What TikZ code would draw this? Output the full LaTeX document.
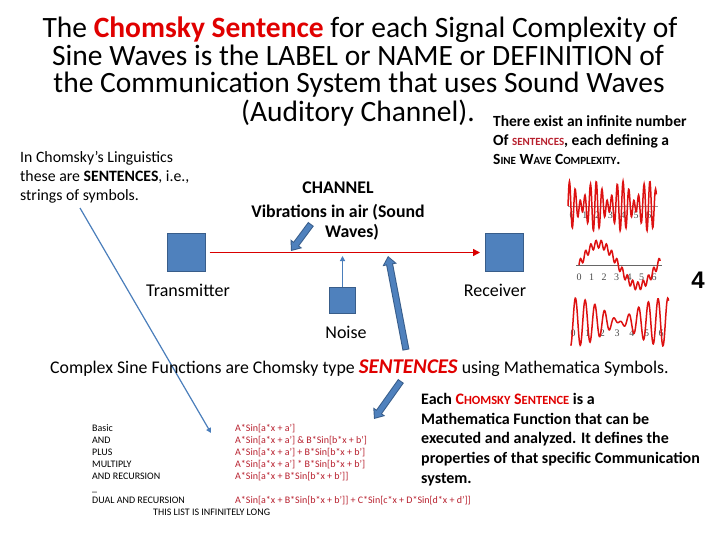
\documentclass[tikz,border=0pt]{standalone}
\usepackage{fontspec}
\setmainfont{Carlito}
\newfontfamily\arialf{Liberation Sans}
\newfontfamily\timesf{Liberation Serif}
\usetikzlibrary{arrows.meta}
\definecolor{boxblue}{HTML}{4F81BD}
\definecolor{boxedge}{HTML}{385D8A}
\definecolor{tred}{HTML}{E00000}
\definecolor{dred}{HTML}{B8202E}
\definecolor{linkblue}{HTML}{4A7EBB}
\definecolor{wavered}{HTML}{DD1111}
\newcommand{\fs}[2]{\fontsize{#1}{#2}\selectfont}
\begin{document}
\begin{tikzpicture}[x=1pt,y=-1pt,
  sq/.style={draw=boxedge,fill=boxblue,line width=1pt,inner sep=0pt},
  lbl/.style={font=\fs{18}{20},inner sep=0pt},
  blockarrow/.style={draw=boxedge,line width=7pt,-{Triangle[width=14pt,length=9pt]},shorten >=0pt},
  blockinner/.style={draw=boxblue,line width=5pt,-{Triangle[width=10pt,length=6.5pt]}},
  chan/.style={draw=red!85!black,line width=1.5pt,-{Triangle[width=7pt,length=7pt]}},
  thinlink/.style={draw=linkblue,line width=1.2pt,-{Triangle[width=5pt,length=5pt]}},
  wave/.style={draw=wavered,line width=1.5pt,smooth},
  axl/.style={font=\timesf\fs{10}{11},text=black!70,inner sep=0pt},
  listl/.style={font=\fs{10}{11},anchor=base west,inner sep=0pt},
  listr/.style={font=\fs{10}{11},anchor=base west,inner sep=0pt,text=dred},
  ttl/.style={font=\fs{29.5}{31},anchor=base,inner sep=0pt},
  bt/.style={font=\bfseries\fs{16}{18},anchor=base west,inner sep=0pt},
  st/.style={font=\bfseries\fs{15.5}{17},anchor=base west,inner sep=0pt},
  lt/.style={font=\fs{15.8}{18},anchor=base west,inner sep=0pt},
  ct/.style={font=\bfseries\fs{17.8}{19},anchor=base,inner sep=0pt}
]
\useasboundingbox (0,0) rectangle (720,540);
\fill[white] (0,0) rectangle (720,540);

% title
\node[ttl] (t1) at (360,38) {The \textcolor{tred}{\textbf{Chomsky Sentence}} for each Signal Complexity of};
\node[ttl] (t2) at (358,66) {Sine Waves is the LABEL or NAME or DEFINITION of};
\node[ttl] (t3) at (359,93) {the Communication System that uses Sound Waves};
\node[ttl] (t4) at (358,122) {(Auditory Channel).};

% right-top block
\node[st] (r1) at (493,127) {There exist an infinite number};
\node[st] (r2) at (493,146) {Of \textcolor{dred}{\fs{11}{12}SENTENCES}, each defining a};
\node[st] (r3) at (493,165) {S{\fs{11}{12}INE} W{\fs{11}{12}AVE} C{\fs{11}{12}OMPLEXITY}.};

% left block
\node[lt] (l1) at (20,163) {In Chomsky's Linguistics};
\node[lt] (l2) at (20,182) {these are \textbf{SENTENCES}, i.e.,};
\node[lt] (l3) at (20,201) {strings of symbols.};

% channel
\node[ct] (c1) at (338,194) {CHANNEL};
\node[ct] (c2) at (338,218) {Vibrations in air (Sound};
\node[ct] (c3) at (352,237) {Waves)};

% boxes
\node[sq,minimum size=38pt] (tx) at (186,252.5) {};
\node[sq,minimum size=38pt] (rx) at (504.5,252.5) {};
\node[sq,minimum size=26pt] (nz) at (342.5,300) {};
\node[lbl] (txl) at (188,290) {Transmitter};
\node[lbl] (rxl) at (495,290) {Receiver};
\node[lbl] (nzl) at (346,332) {Noise};

\coordinate (nzhit) at (342.5,256);
\draw[chan] ([xshift=4pt]tx.east) -- ([xshift=-5pt]rx.west);
\draw[thinlink] (nz.north) -- (nzhit);

% block arrows
\coordinate (a1s) at (311,224); \coordinate (a1e) at (291,251);
\coordinate (a2s) at (406,350); \coordinate (a2e) at (388,256);
\coordinate (a3s) at (401,381); \coordinate (a3e) at (374,419);
\foreach \s/\e in {a1s/a1e,a2s/a2e,a3s/a3e}{
  \draw[blockarrow] (\s) -- (\e);
  \draw[blockinner,shorten >=1.5pt,shorten <=1pt] (\s) -- (\e);
}

% thin link from left text
\coordinate (lks) at (80,208); \coordinate (lke) at (211,433);
\draw[thinlink] (lks) -- (lke);

% the 4
\node[font=\arialf\bfseries\fs{24}{26},inner sep=0pt] (four) at (698,280) {4};

% wave plot 1
\draw[black!40,line width=0.4pt] (568,206) -- (658,206);
\foreach \k in {0,...,6}{\node[axl] (pa\k) at (572+12.8*\k,215) {\k};}
\draw[wave] plot[domain=0:6.9,samples=240] ({568+12.8*\x},{206-15*sin(15*\x r)-10*sin(12*\x r)});

% wave plot 2
\draw[black!60,line width=0.4pt] (576,265) -- (662,265);
\foreach \k in {0,...,6}{\node[axl] (pb\k) at (579+12.5*\k,277) {\k};}
\draw[wave] plot[domain=0:6.5,samples=200] ({579+12.5*\x},{265-21*sin(\x r)-4*sin(15*\x r)});

% wave plot 3
\foreach \k in {0,...,6}{\node[axl] (pc\k) at (573+14.7*\k,333) {\k};}
\draw[wave] plot[domain=-0.15:6.5,samples=240] ({573+14.7*\x},{322-12*sin(9*\x r)-12*sin(10*\x r)});

% complex line
\node[font=\fs{17.8}{20},anchor=base west,inner sep=0pt] (cx) at (50,373) {Complex Sine Functions are Chomsky type \textcolor{tred}{\bfseries\itshape\fs{21}{22}SENTENCES} using Mathematica Symbols.};

% bottom right block
\node[bt] (b1) at (421,404) {Each \textcolor{tred}{C{\fs{12.5}{14}HOMSKY} S{\fs{12.5}{14}ENTENCE}} is a};
\node[bt] (b2) at (421,424) {Mathematica Function that can be};
\node[bt] (b3) at (421,443) {executed and analyzed. It defines the};
\node[bt] (b4) at (421,463) {properties of that specific Communication};
\node[bt] (b5) at (421,483) {system.};

% list
\node[listl] (k1) at (92,431) {Basic};
\node[listl] (k2) at (92,443) {AND};
\node[listl] (k3) at (92,455) {PLUS};
\node[listl] (k4) at (92,467) {MULTIPLY};
\node[listl] (k5) at (92,479) {AND RECURSION};
\node[listl] (k6) at (92,491) {\_};
\node[listl] (k7) at (92,503) {DUAL AND RECURSION};
\node[listr] (v1) at (235,431) {A*Sin[a*x + a']};
\node[listr] (v2) at (235,443) {A*Sin[a*x + a'] \& B*Sin[b*x + b']};
\node[listr] (v3) at (235,455) {A*Sin[a*x + a'] + B*Sin[b*x + b']};
\node[listr] (v4) at (235,467) {A*Sin[a*x + a'] * B*Sin[b*x + b']};
\node[listr] (v5) at (235,479) {A*Sin[a*x + B*Sin[b*x + b']]};
\node[listr] (v7) at (235,503) {A*Sin[a*x + B*Sin[b*x + b']] + C*Sin[c*x + D*Sin[d*x + d']]};
\node[listl] (k8) at (153,515) {THIS LIST IS INFINITELY LONG};
\end{tikzpicture}
\end{document}
